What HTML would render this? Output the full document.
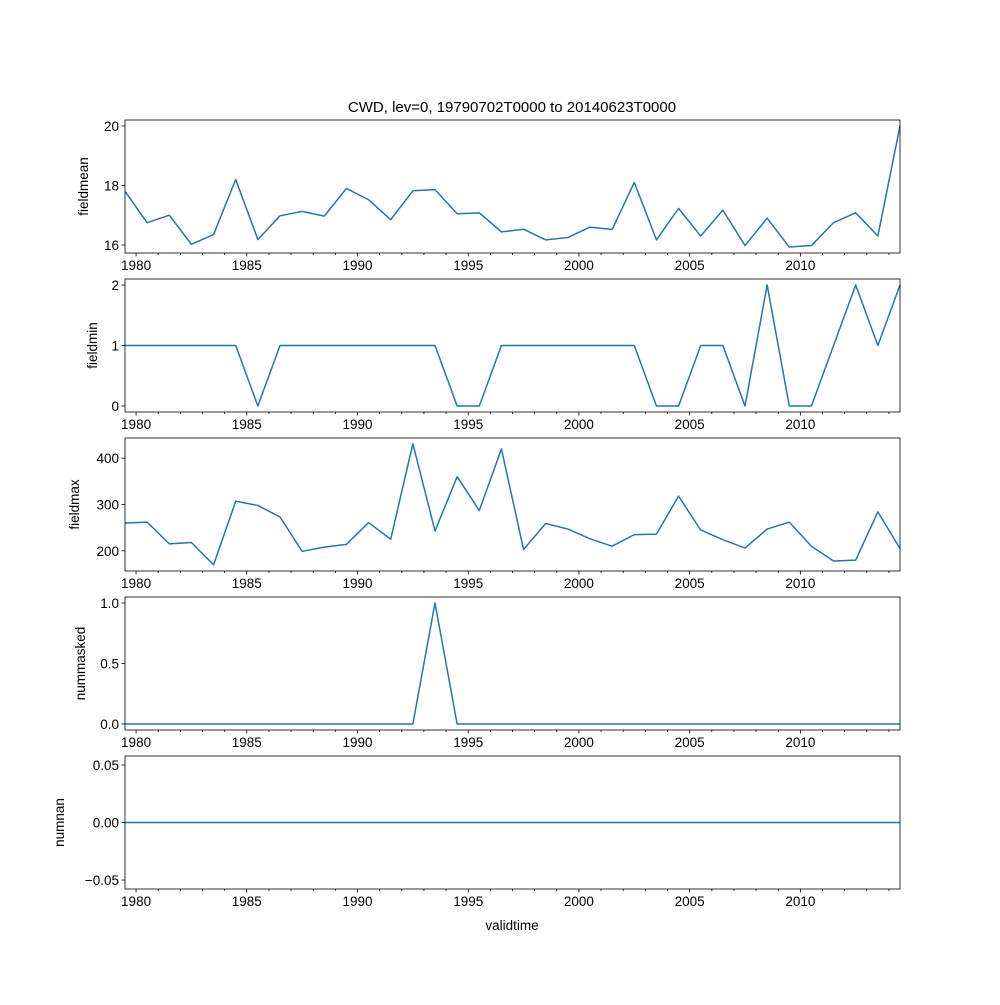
<!DOCTYPE html>
<html><head><meta charset="utf-8"><style>
body{margin:0;background:#fff}
svg text{font-family:"Liberation Sans","DejaVu Sans",sans-serif;font-size:13.5px;fill:#000}
</style></head><body>
<svg id="chart" width="1000" height="1000" viewBox="0 0 1000 1000" xmlns="http://www.w3.org/2000/svg">
<rect width="1000" height="1000" fill="#fff"/>
<text x="512" y="112" text-anchor="middle" style="font-size:15px">CWD, lev=0, 19790702T0000 to 20140623T0000</text>
<text x="512" y="930" text-anchor="middle">validtime</text>
</svg>
<script>
const years=[1980,1985,1990,1995,2000,2005,2010];
const fieldmean=[17.8,16.75,17.0,16.02,16.35,18.2,16.18,16.98,17.13,16.97,17.9,17.52,16.85,17.82,17.86,17.05,17.08,16.44,16.53,16.17,16.25,16.6,16.52,18.1,16.17,17.23,16.3,17.17,15.98,16.9,15.93,15.98,16.75,17.08,16.3,20.0];
const fieldmin=[1,1,1,1,1,1,0,1,1,1,1,1,1,1,1,0,0,1,1,1,1,1,1,1,0,0,1,1,0,2,0,0,1,2,1,2];
const fieldmax=[260,262,215,218,170,307,298,273,199,208,214,261,225,431,243,360,287,420,203,259,247,226,210,235,236,318,245,224,206,247,262,210,178,180,284,205];
const nummasked=[0,0,0,0,0,0,0,0,0,0,0,0,0,0,1,0,0,0,0,0,0,0,0,0,0,0,0,0,0,0,0,0,0,0,0,0];
const numnan=[0,0,0,0,0,0,0,0,0,0,0,0,0,0,0,0,0,0,0,0,0,0,0,0,0,0,0,0,0,0,0,0,0,0,0,0];
const panels=[
 {name:'fieldmean',data:fieldmean,lo:15.73,hi:20.2,ticks:[16,18,20],lab:['16','18','20'],lx:88},
 {name:'fieldmin',data:fieldmin,lo:-0.1,hi:2.1,ticks:[0,1,2],lab:['0','1','2'],lx:97},
 {name:'fieldmax',data:fieldmax,lo:156.5,hi:443.5,ticks:[200,300,400],lab:['200','300','400'],lx:79},
 {name:'nummasked',data:nummasked,lo:-0.05,hi:1.05,ticks:[0,0.5,1],lab:['0.0','0.5','1.0'],lx:85},
 {name:'numnan',data:numnan,lo:-0.0578,hi:0.0578,ticks:[-0.05,0,0.05],lab:['−0.05','0.00','0.05'],lx:64}
];
const svg=document.getElementById('chart');
const NS='http://www.w3.org/2000/svg';
const X0=125,X1=900,T0=1979.5,T1=2014.5;
const xs=t=>X0+(t-T0)/(T1-T0)*(X1-X0);
function mk(tag,attrs,parent){const e=document.createElementNS(NS,tag);for(const k in attrs)e.setAttribute(k,attrs[k]);(parent||svg).appendChild(e);return e;}
panels.forEach((p,k)=>{
 const top=120+k*159,bot=top+133;
 const ys=v=>bot-(v-p.lo)/(p.hi-p.lo)*(bot-top);
 const g=mk('g',{});
 
 
 const pts=p.data.map((v,i)=>xs(T0+i).toFixed(2)+','+ys(v).toFixed(2)).join(' ');
 const line=mk('polyline',{points:pts,fill:'none',stroke:'#1f77b4','stroke-width':1.5,'stroke-linejoin':'round'},g);
 
 
 const fr=mk('rect',{x:X0,y:top,width:X1-X0,height:bot-top,fill:'none',stroke:'#000','stroke-width':0.8},g);
 
 
 for(let y=1980;y<=2014;y++){const x=xs(y);const major=years.includes(y);mk('line',{x1:x,x2:x,y1:bot,y2:bot+(major?3.5:2),stroke:'#000','stroke-width':0.8},g);}
 years.forEach(y=>{const t=mk('text',{x:xs(y),y:bot+17,'text-anchor':'middle'},g);t.textContent=y;
  
  });
 p.ticks.forEach((v,i)=>{const y=ys(v);mk('line',{x1:X0-3.5,x2:X0,y1:y,y2:y,stroke:'#000','stroke-width':0.8},g);
  const t=mk('text',{x:X0-6,y:y+5,'text-anchor':'end'},g);t.textContent=p.lab[i];
  
  });
 const cy=(top+bot)/2;
 const yl=mk('text',{x:p.lx,y:cy,'text-anchor':'middle',transform:'rotate(-90 '+p.lx+' '+cy+')'},g);
 yl.textContent=p.name;
 
 
});
</script>
</body></html>
